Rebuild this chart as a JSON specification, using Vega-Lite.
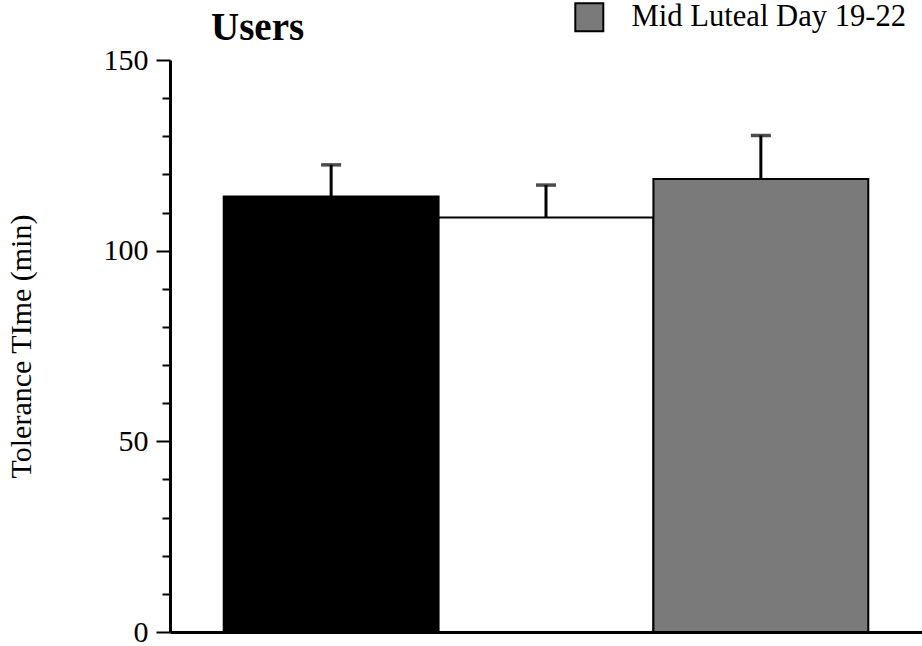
{
  "$schema": "https://vega.github.io/schema/vega-lite/v6.json",
  "width": 752,
  "height": 572,
  "autosize": {"type": "none"},
  "padding": {"left": 170, "top": 60, "right": 0, "bottom": 14},
  "background": "white",
  "title": {"text": "Users", "font": "Liberation Serif", "fontSize": 39, "fontWeight": "bold", "anchor": "start", "frame": "group", "dx": 41, "dy": 52, "color": "black", "offset": 6},
  "config": {"view": {"stroke": null}, "font": "Liberation Serif"},
  "data": {"values": [
    {"phase": "Phase A", "mean": 114.2, "upper": 122.5},
    {"phase": "Phase B", "mean": 108.7, "upper": 117.2},
    {"phase": "Mid Luteal Day 19-22", "mean": 118.8, "upper": 130.2}
  ]},
  "encoding": {
    "x": {"field": "phase", "type": "nominal", "sort": null,
          "scale": {"paddingInner": 0, "paddingOuter": 0.25},
          "axis": {"labels": false, "ticks": false, "title": null, "domainWidth": 3, "domainColor": "black"}}
  },
  "layer": [
    {
      "mark": {"type": "bar", "stroke": "black", "strokeWidth": 2},
      "encoding": {
        "y": {"field": "mean", "type": "quantitative",
              "scale": {"domain": [0, 150], "nice": false},
              "axis": {
                "title": "Tolerance TIme (min)", "titleFont": "Liberation Serif", "titleFontSize": 30,
                "titleFontWeight": "normal", "titleColor": "black", "titlePadding": 67,
                "values": [0, 10, 20, 30, 40, 50, 60, 70, 80, 90, 100, 110, 120, 130, 140, 150],
                "labelExpr": "datum.value % 50 === 0 ? datum.label : ''",
                "labelOverlap": false,
                "labelFont": "Liberation Serif", "labelFontSize": 30, "labelColor": "black", "labelPadding": 8,
                "tickColor": "black", "tickWidth": 2,
                "tickSize": {"condition": {"test": "datum.value % 50 === 0", "value": 14}, "value": 8},
                "domainColor": "black", "domainWidth": 3, "grid": false
              }},
        "fill": {"field": "phase", "type": "nominal",
                 "scale": {"domain": ["Phase A", "Phase B", "Mid Luteal Day 19-22"], "range": ["black", "white", "#7a7a7a"]},
                 "legend": {"values": ["Mid Luteal Day 19-22"], "orient": "none", "legendX": 404, "legendY": -58, "title": null,
                            "symbolType": "square", "symbolSize": 784, "symbolStrokeColor": "black", "symbolStrokeWidth": 2,
                            "labelFont": "Liberation Serif", "labelFontSize": 30.6, "labelColor": "black", "labelOffset": 27, "labelLimit": 400}}
      }
    },
    {
      "mark": {"type": "rule", "strokeWidth": 3, "color": "black"},
      "encoding": {
        "y": {"field": "mean", "type": "quantitative",
              "axis": {
                "title": "Tolerance TIme (min)", "titleFont": "Liberation Serif", "titleFontSize": 30,
                "titleFontWeight": "normal", "titleColor": "black", "titlePadding": 67,
                "values": [0, 10, 20, 30, 40, 50, 60, 70, 80, 90, 100, 110, 120, 130, 140, 150],
                "labelExpr": "datum.value % 50 === 0 ? datum.label : ''",
                "labelOverlap": false,
                "labelFont": "Liberation Serif", "labelFontSize": 30, "labelColor": "black", "labelPadding": 8,
                "tickColor": "black", "tickWidth": 2,
                "tickSize": {"condition": {"test": "datum.value % 50 === 0", "value": 14}, "value": 8},
                "domainColor": "black", "domainWidth": 3, "grid": false
              }},
        "y2": {"field": "upper"}
      }
    },
    {
      "mark": {"type": "tick", "thickness": 3.5, "size": 20, "color": "black"},
      "encoding": {
        "y": {"field": "upper", "type": "quantitative",
              "axis": {
                "title": "Tolerance TIme (min)", "titleFont": "Liberation Serif", "titleFontSize": 30,
                "titleFontWeight": "normal", "titleColor": "black", "titlePadding": 67,
                "values": [0, 10, 20, 30, 40, 50, 60, 70, 80, 90, 100, 110, 120, 130, 140, 150],
                "labelExpr": "datum.value % 50 === 0 ? datum.label : ''",
                "labelOverlap": false,
                "labelFont": "Liberation Serif", "labelFontSize": 30, "labelColor": "black", "labelPadding": 8,
                "tickColor": "black", "tickWidth": 2,
                "tickSize": {"condition": {"test": "datum.value % 50 === 0", "value": 14}, "value": 8},
                "domainColor": "black", "domainWidth": 3, "grid": false
              }}
      }
    }
  ]
}
